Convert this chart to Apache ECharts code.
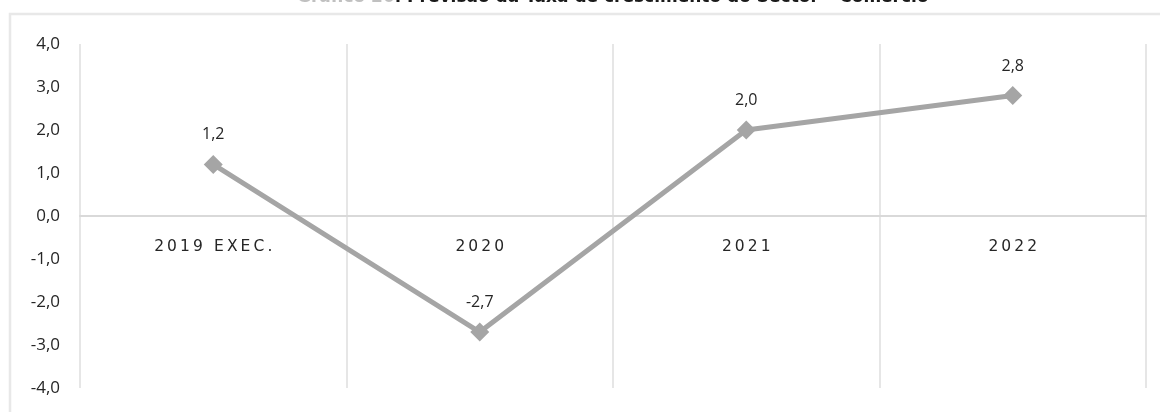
<!DOCTYPE html>
<html>
<head>
<meta charset="utf-8">
<script src="https://cdn.jsdelivr.net/npm/echarts@6/dist/echarts.min.js"></script>
<style>html,body{margin:0;padding:0;background:#fff}#c{width:1160px;height:412px}</style>
</head>
<body>
<div id="c"></div>
<script>
var titlePrefix = 'Gráfico 20';
var titleMain = '. Previsão da Taxa de crescimento do Sector – Comércio';
var categories = ['2019 EXEC.', '2020', '2021', '2022'];
var values = [1.2, -2.7, 2.0, 2.8];
var yMin = -4, yMax = 4, yStep = 1;

function fmt(v) { return Number(v).toFixed(1).replace('.', ','); }

var chart = echarts.init(document.getElementById('c'), null, { renderer: 'canvas' });
chart.setOption({
  animation: false,
  backgroundColor: '#ffffff',
  graphic: [
    {
      type: 'rect', silent: true, z: -10,
      shape: { x: 10, y: 14, width: 1300, height: 600 },
      style: { fill: 'none', stroke: '#e8e8e8', lineWidth: 2.5 }
    },
    {
      type: 'text', left: 297, top: -11, silent: true, z: 10,
      style: {
        text: '{g|' + titlePrefix + '}{b|' + titleMain + '}',
        rich: {
          g: { fontFamily: 'DejaVu Sans', fontWeight: 'bold', fontSize: 17, fill: '#c0c0c0' },
          b: { fontFamily: 'DejaVu Sans', fontWeight: 'bold', fontSize: 17, fill: '#1a1a1a' }
        }
      }
    }
  ],
  grid: { left: 80, right: 14, top: 44, bottom: 24, containLabel: false, outerBoundsMode: 'none' },
  xAxis: {
    type: 'category',
    data: categories,
    boundaryGap: true,
    offset: -172,
    axisLine: { show: true, onZero: false, lineStyle: { color: '#d9d9d9', width: 2 } },
    axisTick: { show: false },
    axisLabel: {
      margin: 23, color: '#262626', fontSize: 15.5,
      fontFamily: 'DejaVu Sans',
      formatter: function (v) { return v.split('').join('\u2009'); }
    },
    splitLine: { show: true, lineStyle: { color: '#e6e6e6', width: 2 } }
  },
  yAxis: {
    type: 'value',
    min: yMin, max: yMax, interval: yStep,
    axisLine: { show: false },
    axisTick: { show: false },
    splitLine: { show: false },
    axisLabel: {
      color: '#262626', fontSize: 17, fontFamily: 'Open Sans', margin: 20,
      formatter: fmt
    }
  },
  series: [{
    type: 'line',
    data: values,
    symbol: 'diamond',
    symbolSize: 19,
    lineStyle: { color: '#a5a5a5', width: 5 },
    itemStyle: { color: '#a5a5a5' },
    label: {
      show: true, position: 'top', distance: 12,
      color: '#262626', fontSize: 16, fontFamily: 'Open Sans',
      formatter: function (p) { return fmt(p.value); }
    }
  }]
});
</script>
</body>
</html>
